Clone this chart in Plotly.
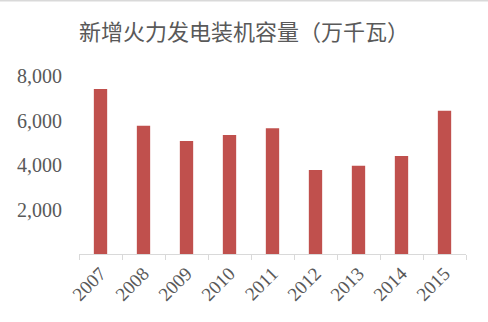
import plotly.graph_objects as go

years = ["2007", "2008", "2009", "2010", "2011", "2012", "2013", "2014", "2015"]
capacity = [7420, 5760, 5080, 5350, 5650, 3780, 3970, 4400, 6440]
y_ticks = [2000, 4000, 6000, 8000]
y_tick_text = ["2,000", "4,000", "6,000", "8,000"]
title_text = "新增火力发电装机容量（万千瓦）"

serif = "Liberation Serif, Times New Roman, DejaVu Serif, serif"

fig = go.Figure(go.Bar(x=years, y=capacity, marker=dict(color="#C0504D", line=dict(width=0)),
                       hoverinfo="skip"))

fig.update_layout(
    width=488, height=322,
    margin=dict(l=79, r=22, t=76, b=68),
    paper_bgcolor="white", plot_bgcolor="white",
    bargap=0.69,
    showlegend=False,
    title=dict(text=title_text, x=0.5, xanchor="center", y=0.9, yanchor="middle",
               font=dict(family="Noto Sans CJK SC", size=22, color="#595959")),
    xaxis=dict(showline=True, linecolor="#D9D9D9", linewidth=1, ticks="outside",
               tickson="boundaries", ticklen=5, tickcolor="#D9D9D9", tickangle=-45,
               showgrid=False, zeroline=False,
               tickfont=dict(family=serif, size=19, color="#595959")),
    yaxis=dict(range=[0, 8000], tickvals=y_ticks, ticktext=y_tick_text, showgrid=False,
               zeroline=False, showline=False, ticks="", ticklabelstandoff=16,
               tickfont=dict(family=serif, size=20, color="#595959")),
    shapes=[dict(type="line", xref="paper", yref="paper", x0=-0.3, x1=1.1,
                 y0=1.4242, y1=1.4242, line=dict(color="#D9D9D9", width=2))],
)

fig.write_html("out.html")
